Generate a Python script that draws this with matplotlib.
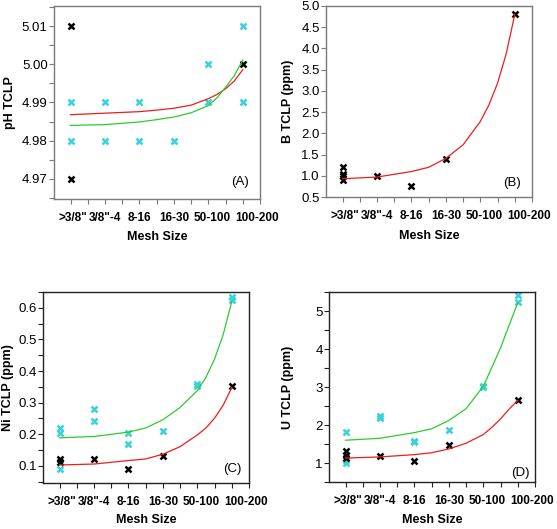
import numpy as np
import matplotlib
matplotlib.use("Agg")
import matplotlib.pyplot as plt
from matplotlib.ticker import MultipleLocator, FormatStrFormatter

plt.rcParams['font.family'] = ['Liberation Sans', 'DejaVu Sans']

cats = ['>3/8"', '3/8"-4', '8-16', '16-30', '50-100', '100-200']

# fitted curve vertices (category index)
fit_x = [0, 1, 2, 2.5, 3, 3.5, 4, 4.25, 4.5, 4.75, 5]

# (A) pH
ph_black_x = [0, 0, 5]
ph_black_y = [5.01, 4.97, 5.00]
ph_cyan_x = [0, 0, 1, 1, 2, 2, 3, 4, 4, 5, 5]
ph_cyan_y = [4.99, 4.98, 4.99, 4.98, 4.99, 4.98, 4.98, 5.00, 4.99, 5.01, 4.99]
ph_red = [4.9868, 4.9872, 4.9876, 4.9880, 4.9885, 4.9893, 4.9910, 4.9921, 4.9936, 4.9956, 4.9986]
ph_green = [4.9840, 4.9842, 4.9849, 4.9855, 4.9862, 4.9873, 4.9892, 4.9912, 4.9940, 4.9970, 5.0011]

# (B) boron
b_black_x = [0, 0, 0, 0, 1, 2, 3, 5]
b_black_y = [1.21, 1.05, 1.0, 0.9, 1.0, 0.76, 1.4, 4.8]
b_red = [0.93, 0.97, 1.10, 1.20, 1.41, 1.73, 2.28, 2.67, 3.18, 3.87, 4.80]

# (C) nickel
ni_cyan_x = [0, 0, 0, 1, 1, 2, 2, 3, 4, 4, 5, 5]
ni_cyan_y = [0.22, 0.205, 0.09, 0.28, 0.243, 0.203, 0.169, 0.211, 0.36, 0.352, 0.633, 0.626]
ni_black_x = [0, 0, 1, 2, 3, 5]
ni_black_y = [0.123, 0.112, 0.122, 0.09, 0.132, 0.354]
ni_green = [0.189, 0.193, 0.207, 0.220, 0.246, 0.285, 0.338, 0.380, 0.438, 0.515, 0.620]
ni_red = [0.103, 0.106, 0.117, 0.122, 0.137, 0.161, 0.198, 0.220, 0.251, 0.292, 0.348]

# (D) uranium
u_cyan_x = [0, 0, 0, 1, 1, 2, 2, 3, 4, 4, 5, 5]
u_cyan_y = [1.82, 1.07, 1.0, 2.24, 2.19, 1.58, 1.55, 1.87, 3.03, 3.0, 5.42, 5.24]
u_black_x = [0, 0, 0, 1, 2, 3, 5]
u_black_y = [1.31, 1.2, 1.13, 1.18, 1.05, 1.48, 2.66]
u_green = [1.60, 1.65, 1.80, 1.90, 2.12, 2.43, 3.02, 3.52, 4.03, 4.63, 5.22]
u_red = [1.13, 1.16, 1.22, 1.27, 1.37, 1.52, 1.75, 1.94, 2.16, 2.42, 2.65]

CYAN = '#38d2d8'
RED = '#ee1c1c'
GREEN = '#2ccc2c'

fig = plt.figure(figsize=(5.57, 5.29), dpi=100)

# the original nudges some mesh labels to the right (pixels)
label_shift = [2, 0, 0, 0, 4, 14]

def setup(ax, ylab, ylim, major, minor, fmt, tag, tagpos, edge, ylab_x, xlab_y):
    ax.set_xlim(-0.48, 5.5)
    ax.set_ylim(*ylim)
    ax.set_xticks(range(len(cats)))
    ax.tick_params(axis='x', labelbottom=False)
    for i, (c, dx) in enumerate(zip(cats, label_shift)):
        ax.annotate(c, xy=(i, 0), xycoords=('data', 'axes fraction'),
                    xytext=(dx, -19), textcoords='offset pixels',
                    ha='center', va='center', fontsize=8.5, fontweight='bold')
    ax.xaxis.set_minor_locator(MultipleLocator(0.5))
    ax.yaxis.set_major_locator(MultipleLocator(major))
    if minor:
        ax.yaxis.set_minor_locator(MultipleLocator(minor))
    if fmt:
        ax.yaxis.set_major_formatter(FormatStrFormatter(fmt))
    ax.tick_params(axis='both', which='both', direction='out', length=3.5, width=0.8, color=edge)
    ax.tick_params(axis='y', labelsize=9.5, pad=1)
    for s in ax.spines.values():
        s.set_color(edge)
        s.set_linewidth(1.0)
    ax.set_ylabel(ylab, fontsize=9, fontweight='bold', va='center')
    ax.yaxis.set_label_coords(ylab_x, 0.5)
    ax.set_xlabel('Mesh Size', fontsize=9, fontweight='bold', va='center')
    ax.xaxis.set_label_coords(0.5, xlab_y)
    ax.text(tagpos[0], tagpos[1], tag, transform=ax.transAxes, ha='right', va='center', fontsize=9.5)

def pts(ax, x, y, c):
    ax.plot(x, y, 'x', color=c, ms=5, mew=1.8, ls='none')

axA = fig.add_axes([54/557, 330/529, 206/557, 193/529])
pts(axA, ph_cyan_x, ph_cyan_y, CYAN)
pts(axA, ph_black_x, ph_black_y, 'black')
axA.plot(fit_x, ph_red, color=RED, lw=0.9)
axA.plot(fit_x, ph_green, color=GREEN, lw=0.9)
setup(axA, 'pH TCLP', (4.9647, 5.0153), 0.01, 0.005, '%.2f', '(A)', (0.947, 0.088), '#7a7a7a',
      -0.214, -0.197)

axB = fig.add_axes([326/557, 332/529, 206/557, 191/529])
pts(axB, b_black_x, b_black_y, 'black')
axB.plot(fit_x, b_red, color=RED, lw=0.9)
setup(axB, 'B TCLP (ppm)', (0.5, 5.0), 0.5, None, '%.1f', '(B)', (0.945, 0.075), '#7a7a7a',
      -0.184, -0.204)

axC = fig.add_axes([43/557, 46/529, 206/557, 191/529])
pts(axC, ni_cyan_x, ni_cyan_y, CYAN)
pts(axC, ni_black_x, ni_black_y, 'black')
axC.plot(fit_x, ni_green, color=GREEN, lw=0.9)
axC.plot(fit_x, ni_red, color=RED, lw=0.9)
setup(axC, 'Ni TCLP (ppm)', (0.046, 0.65), 0.1, 0.05, '%.1f', '(C)', (0.966, 0.073), '#222222',
      -0.17, -0.194)

axD = fig.add_axes([329/557, 47/529, 206/557, 190/529])
pts(axD, u_cyan_x, u_cyan_y, CYAN)
pts(axD, u_black_x, u_black_y, 'black')
axD.plot(fit_x, u_green, color=GREEN, lw=0.9)
axD.plot(fit_x, u_red, color=RED, lw=0.9)
setup(axD, 'U TCLP (ppm)', (0.5, 5.5), 1, 0.5, '%d', '(D)', (0.972, 0.047), '#222222',
      -0.199, -0.2)

fig.savefig('out.png', dpi=100)
